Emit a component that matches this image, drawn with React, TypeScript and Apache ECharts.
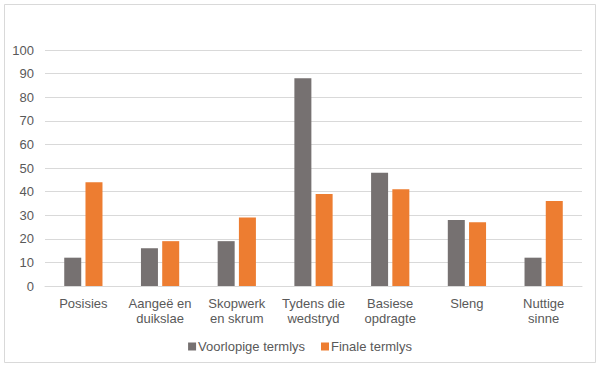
import React, { useEffect, useRef } from "react";
import * as echarts from "echarts";

const categories = [
  "Posisies",
  "Aangeë en\nduikslae",
  "Skopwerk\nen skrum",
  "Tydens die\nwedstryd",
  "Basiese\nopdragte",
  "Sleng",
  "Nuttige\nsinne",
];
const seriesNames = ["Voorlopige termlys", "Finale termlys"];
const voorlopige = [12, 16, 19, 88, 48, 28, 12];
const finale = [44, 19, 29, 39, 41, 27, 36];

export default function App() {
  const ref = useRef<HTMLDivElement>(null);
  useEffect(() => {
    if (!ref.current) return;
    const chart = echarts.init(ref.current, undefined, { renderer: "svg" });
    const textColor = "#595959";
    const font = "'Liberation Sans', Arial, sans-serif";
    chart.setOption({
      animation: false,
      backgroundColor: "#ffffff",
      textStyle: { fontFamily: font },
      graphic: [
        {
          type: "rect",
          shape: { x: 4.5, y: 4.5, width: 591, height: 358 },
          style: { fill: "none", stroke: "#d9d9d9", lineWidth: 1 },
          silent: true,
          z: -1,
        },
      ],
      grid: { left: 45, right: 18, top: 50, bottom: 82, containLabel: false },
      legend: {
        data: seriesNames,
        top: 335,
        left: "center",
        icon: "rect",
        itemWidth: 8,
        itemHeight: 8,
        itemGap: 16,
        textStyle: {
          color: textColor,
          fontSize: 13,
          fontFamily: font,
          padding: [0, 0, 0, -3],
        },
      },
      xAxis: {
        type: "category",
        data: categories,
        axisLine: { lineStyle: { color: "#d9d9d9" } },
        axisTick: { show: false },
        axisLabel: {
          color: textColor,
          fontSize: 13,
          fontFamily: font,
          lineHeight: 15,
          margin: 10,
          interval: 0,
        },
      },
      yAxis: {
        type: "value",
        min: 0,
        max: 100,
        interval: 10,
        axisLine: { show: false },
        axisTick: { show: false },
        splitLine: { lineStyle: { color: "#d9d9d9", width: 1 } },
        axisLabel: { color: textColor, fontSize: 13, fontFamily: font, margin: 11 },
      },
      series: [
        {
          name: seriesNames[0],
          type: "bar",
          data: voorlopige,
          barWidth: 17,
          barGap: "25%",
          itemStyle: { color: "#767171" },
        },
        {
          name: seriesNames[1],
          type: "bar",
          data: finale,
          barWidth: 17,
          itemStyle: { color: "#ED7D31" },
        },
      ],
    });
    return () => chart.dispose();
  }, []);
  return (
    <div
      ref={ref}
      style={{ position: "fixed", left: 0, top: 0, width: 600, height: 368 }}
    />
  );
}
